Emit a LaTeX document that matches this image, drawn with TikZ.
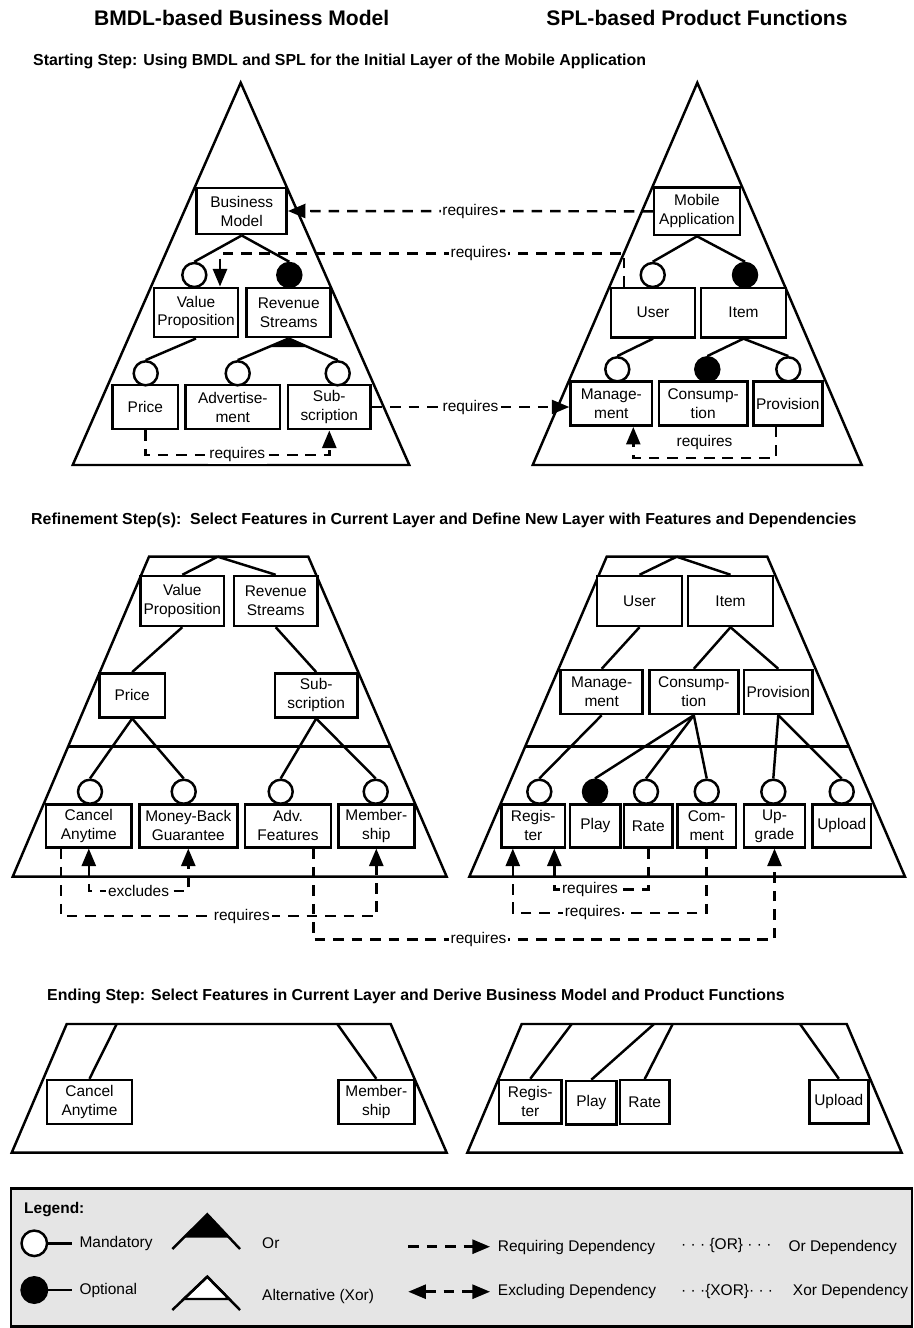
\documentclass[tikz,border=0pt]{standalone}
\usepackage{fontspec}
\setmainfont{Liberation Sans}
\usetikzlibrary{arrows.meta,calc}
\newcommand\featfont{\fontsize{8.8}{10.8}\selectfont}
\begin{document}
\begin{tikzpicture}[x=0.02cm, y=-0.02cm, line width=1.4pt,
  feat/.style={draw, fill=white, align=center, inner sep=0pt, font=\featfont},
  mand/.style={circle, draw, fill=white, minimum size=0.48cm, inner sep=0pt},
  opt/.style={circle, draw, fill=black, minimum size=0.48cm, inner sep=0pt},
  dep/.style={dash pattern=on 6pt off 4.5pt, -{Triangle[length=10pt,width=8pt]}},
  exdep/.style={dash pattern=on 6pt off 4.5pt, {Triangle[length=10pt,width=8pt]}-{Triangle[length=10pt,width=8pt]}},
  lbl/.style={fill=white, inner sep=1pt, font=\featfont},
  txt/.style={font=\featfont, anchor=west, inner sep=0pt},
  title/.style={font=\fontsize{12}{14}\selectfont\bfseries},
  head/.style={font=\fontsize{9.05}{11}\selectfont\bfseries, anchor=west, inner sep=0pt}]
\useasboundingbox (0,0) rectangle (913,1328);
\node[title] (t1) at (241.7,17.5) {BMDL-based Business Model};
\node[title] (t2) at (697,17.5) {SPL-based Product Functions};
\node[head] (h1) at (32,61) {Starting Step: Using BMDL and SPL for the Initial Layer of the Mobile Application};
\node[head] (h2) at (30,520) {Refinement Step(s):\ \ Select Features in Current Layer and Define New Layer with Features and Dependencies};
\node[head] (h3) at (46,996) {Ending Step: Select Features in Current Layer and Derive Business Model and Product Functions};
% starting step
\draw (240.7,82.7) -- (409.3,465) -- (72.7,465) -- cycle;
\node[feat, minimum width=1.8cm, minimum height=0.93cm] (bm) at (241.7,211) {Business\\Model};
\node[feat, minimum width=1.67cm, minimum height=0.99cm] (vp) at (196,312.5) {Value\\Proposition};
\node[feat, minimum width=1.68cm, minimum height=0.99cm] (rs) at (288.7,312.5) {Revenue\\Streams};
\node[mand] (cvp) at (194.3,275) {};
\node[opt] (crs) at (289.3,275) {};
\node[feat, minimum width=1.31cm, minimum height=0.89cm] (price) at (145.3,407) {Price};
\node[feat, minimum width=1.89cm, minimum height=0.89cm] (adv) at (232.8,407) {Advertise-\\ment};
\node[feat, minimum width=1.65cm, minimum height=0.89cm] (sub) at (329.3,407) {Sub-\\scription};
\node[mand] (cprice) at (145.7,373.3) {};
\node[mand] (cadv) at (237.7,373.3) {};
\node[mand] (csub) at (337.7,373.3) {};
\draw (bm.south) -- (cvp.north);
\draw (bm.south) -- (crs.north);
\draw (vp.south) -- (cprice.north);
\draw (rs.south) -- (cadv.north);
\draw (rs.south) -- (csub.north);
\fill (rs.south) -- ($(rs.south)!.4!(cadv.north)$) -- ($(rs.south)!.4!(csub.north)$) -- cycle;
\draw (697.3,82.7) -- (861.7,465) -- (532.7,465) -- cycle;
\node[feat, minimum width=1.72cm, minimum height=0.95cm] (ma) at (697,211.3) {Mobile\\Application};
\node[feat, minimum width=1.68cm, minimum height=0.99cm] (user) at (653,312.7) {User};
\node[feat, minimum width=1.69cm, minimum height=0.99cm] (item) at (743.5,312.7) {Item};
\node[mand] (cuser) at (652.7,275) {};
\node[opt] (citem) at (745,275) {};
\node[feat, minimum width=1.63cm, minimum height=0.88cm] (mgmt) at (611.3,403.7) {Manage-\\ment};
\node[feat, minimum width=1.77cm, minimum height=0.88cm] (cons) at (703.2,403.7) {Consump-\\tion};
\node[feat, minimum width=1.38cm, minimum height=0.88cm] (prov) at (787.8,403.7) {Provision};
\node[mand] (cmgmt) at (617.3,369.3) {};
\node[opt] (ccons) at (707.3,369.3) {};
\node[mand] (cprov) at (788.3,369.3) {};
\draw (ma.south) -- (cuser.north);
\draw (ma.south) -- (citem.north);
\draw (user.south) -- (cmgmt.north);
\draw (item.south) -- (ccons.north);
\draw (item.south) -- (cprov.north);
\draw[dep] (ma.west) -- node[lbl] (rq1) {requires} (bm.east);
\coordinate (lev1) at (0,253.3);
\coordinate (u2) at ([xshift=-0.58cm]user.north);
\coordinate (v2) at ([xshift=0.48cm]vp.north);
\draw[dep] (u2) -- (u2 |- lev1) -- node[lbl, pos=0.36] (rq2) {requires} (v2 |- lev1) -- (v2);
\draw[dep] (sub.east) -- node[lbl] (rq3) {requires} (sub.east -| mgmt.west);
\draw[dep] (price.south) -- ++(0,24.3) -| node[lbl, pos=0.25] (rq4) {requires} (sub.south);
\draw[dep] ([xshift=-0.24cm]prov.south) -- ++(0,31) -| node[lbl, above=3pt, pos=0.25] (rq5) {requires} ([xshift=0.44cm]mgmt.south);
% refinement step
\draw (149,556.7) -- (308.3,556.7) -- (446.7,876.7) -- (12.7,876.7) -- cycle;
\draw (68.1,746.7) -- (390.5,746.7);
\coordinate (topl) at (217.7,556.7);
\node[feat, minimum width=1.67cm, minimum height=1cm] (vp2) at (182.3,601) {Value\\Proposition};
\node[feat, minimum width=1.67cm, minimum height=1cm] (rs2) at (275.7,601) {Revenue\\Streams};
\node[feat, minimum width=1.31cm, minimum height=0.88cm] (price2) at (132.2,695.3) {Price};
\node[feat, minimum width=1.65cm, minimum height=0.88cm] (sub2) at (316.2,695.3) {Sub-\\scription};
\node[mand] (ccan) at (90,791.7) {};
\node[mand] (cmbg) at (183.7,791.7) {};
\node[mand] (cadv2) at (280.7,791.7) {};
\node[mand] (cmem) at (375.7,791.7) {};
\node[feat, minimum width=1.71cm, minimum height=0.86cm] (cancel) at (88.8,825.8) {Cancel\\Anytime};
\node[feat, minimum width=1.96cm, minimum height=0.86cm] (mbg) at (188.3,825.8) {Money-Back\\Guarantee};
\node[feat, minimum width=1.72cm, minimum height=0.86cm] (adv2) at (288,825.8) {Adv.\\Features};
\node[feat, minimum width=1.52cm, minimum height=0.86cm] (memb) at (376.3,825.8) {Member-\\ship};
\draw (topl) -- (vp2.north);
\draw (topl) -- (rs2.north);
\draw (vp2.south) -- (price2.north);
\draw (rs2.south) -- (sub2.north);
\draw (price2.south) -- (ccan.north);
\draw (price2.south) -- (cmbg.north);
\draw (sub2.south) -- (cadv2.north);
\draw (sub2.south) -- (cmem.north);
\draw (606.7,556.7) -- (767.3,556.7) -- (905,876.7) -- (469.3,876.7) -- cycle;
\draw (525.1,746.7) -- (849.1,746.7);
\coordinate (topr) at (676.7,556.7);
\node[feat, minimum width=1.69cm, minimum height=1cm] (user2) at (639.5,601) {User};
\node[feat, minimum width=1.69cm, minimum height=1cm] (item2) at (730.5,601) {Item};
\node[feat, minimum width=1.64cm, minimum height=0.88cm] (mgmt2) at (601.7,692) {Manage-\\ment};
\node[feat, minimum width=1.78cm, minimum height=0.88cm] (cons2) at (693.8,692) {Consump-\\tion};
\node[feat, minimum width=1.37cm, minimum height=0.88cm] (prov2) at (778.3,692) {Provision};
\node[mand] (creg) at (539.3,791.7) {};
\node[opt] (cplay) at (595,791.7) {};
\node[mand] (crate) at (646,791.7) {};
\node[mand] (ccom) at (706.7,791.7) {};
\node[mand] (cupg) at (773.3,791.7) {};
\node[mand] (cupl) at (841.7,791.7) {};
\node[feat, minimum width=1.27cm, minimum height=0.86cm] (reg) at (533.3,825.8) {Regis-\\ter};
\node[feat, minimum width=1.01cm, minimum height=0.86cm] (play) at (595.3,825.8) {Play};
\node[feat, minimum width=0.97cm, minimum height=0.86cm] (rate) at (648.3,825.8) {Rate};
\node[feat, minimum width=1.17cm, minimum height=0.86cm] (com) at (706.7,825.8) {Com-\\ment};
\node[feat, minimum width=1.22cm, minimum height=0.86cm] (upg) at (774.5,825.8) {Up-\\grade};
\node[feat, minimum width=1.17cm, minimum height=0.86cm] (upl) at (841.8,825.8) {Upload};
\draw (topr) -- (user2.north);
\draw (topr) -- (item2.north);
\draw (user2.south) -- (mgmt2.north);
\draw (item2.south) -- (cons2.north);
\draw (item2.south) -- (prov2.north);
\draw (mgmt2.south) -- (creg.north);
\draw (cons2.south) -- (cplay.north);
\draw (cons2.south) -- (crate.north);
\draw (cons2.south) -- (ccom.north);
\draw (prov2.south) -- (cupg.north);
\draw (prov2.south) -- (cupl.north);
\draw[exdep] (cancel.south) -- ++(0,42.7) -| node[lbl, pos=0.25] (ex1) {excludes} (mbg.south);
\draw[dep] ([xshift=-0.56cm]cancel.south) -- ++(0,67.7) -| node[lbl, pos=0.287] (rq6) {requires} (memb.south);
\draw[dep] ([xshift=0.51cm]adv2.south) -- ++(0,91) -| node[lbl, pos=0.179] (rq7) {requires} (upg.south);
\draw[dep] (rate.south) -- ++(0,41) -| node[lbl, pos=0.31] (rq8) {requires} ([xshift=0.42cm]reg.south);
\draw[dep] (com.south) -- ++(0,64.4) -| node[lbl, pos=0.294] (rq9) {requires} ([xshift=-0.41cm]reg.south);
% ending step
\draw (66.7,1024) -- (390.7,1024) -- (446.7,1152.7) -- (11.7,1152.7) -- cycle;
\coordinate (e1) at (116.7,1024);
\coordinate (e2) at (337.3,1024);
\node[feat, minimum width=1.71cm, minimum height=0.88cm] (cancel3) at (89.5,1102) {Cancel\\Anytime};
\node[feat, minimum width=1.52cm, minimum height=0.88cm] (memb3) at (376.3,1102) {Member-\\ship};
\draw (e1) -- (cancel3.north);
\draw (e2) -- (memb3.north);
\draw (521.7,1024) -- (846.7,1024) -- (901.7,1152.7) -- (467.3,1152.7) -- cycle;
\coordinate (f1) at (571.7,1024);
\coordinate (f2) at (654,1024);
\coordinate (f3) at (672.7,1024);
\coordinate (f4) at (800,1024);
\node[feat, minimum width=1.25cm, minimum height=0.87cm] (reg3) at (530.3,1101.7) {Regis-\\ter};
\node[feat, minimum width=1.01cm, minimum height=0.87cm] (play3) at (591.3,1102.7) {Play};
\node[feat, minimum width=0.99cm, minimum height=0.87cm] (rate3) at (644.7,1102) {Rate};
\node[feat, minimum width=1.18cm, minimum height=0.87cm] (upl3) at (838.8,1101.7) {Upload};
\draw (f1) -- (reg3.north);
\draw (f2) -- (play3.north);
\draw (f3) -- (rate3.north);
\draw (f4) -- (upl3.north);
% legend
\draw[fill=black!10] (11,1188.3) rectangle (912,1326.7);
\node[font=\featfont\bfseries, anchor=west, inner sep=0pt] (lg) at (23,1210) {Legend:};
\node[mand, minimum size=0.51cm] (lm) at (34.3,1243.3) {};
\coordinate (lm2) at (71.7,1243.3);
\draw (lm) -- (lm2);
\node[txt] (lmt) at (78.3,1243.3) {Mandatory};
\node[opt, minimum size=0.51cm] (lo) at (34.3,1290) {};
\coordinate (lo2) at (71.7,1290);
\draw (lo) -- (lo2);
\node[txt] (lot) at (78.3,1290) {Optional};
\fill (207.3,1214.3) -- (183.7,1237.7) -- (229.3,1237.7) -- cycle;
\draw (172.3,1249) -- (207.3,1214.3) -- (240,1249);
\filldraw[fill=white] (207.3,1276.7) -- (183.8,1299) -- (229.2,1299) -- cycle;
\draw (172.3,1310) -- (207.3,1276.7) -- (240,1310);
\node[txt] (lor) at (261,1243.3) {Or};
\node[txt] (lxor) at (261,1296) {Alternative (Xor)};
\coordinate (la1) at (408.3,1246.7);
\coordinate (la2) at (490,1246.7);
\draw[dep] (la1) -- (la2);
\node[txt] (lat) at (496.7,1247) {Requiring Dependency};
\coordinate (lb1) at (408.3,1291.7);
\coordinate (lb2) at (490,1291.7);
\draw[exdep] (lb1) -- (lb2);
\node[txt] (lbt) at (496.7,1291.7) {Excluding Dependency};
\node[txt] (lc) at (680,1245) {· · · \{OR\} · · ·};
\node[txt] (lct) at (787.3,1247) {Or Dependency};
\node[txt] (ld) at (680,1291) {· · ·\{XOR\}· · ·};
\node[txt] (ldt) at (791.7,1291.7) {Xor Dependency};
\end{tikzpicture}
\end{document}
